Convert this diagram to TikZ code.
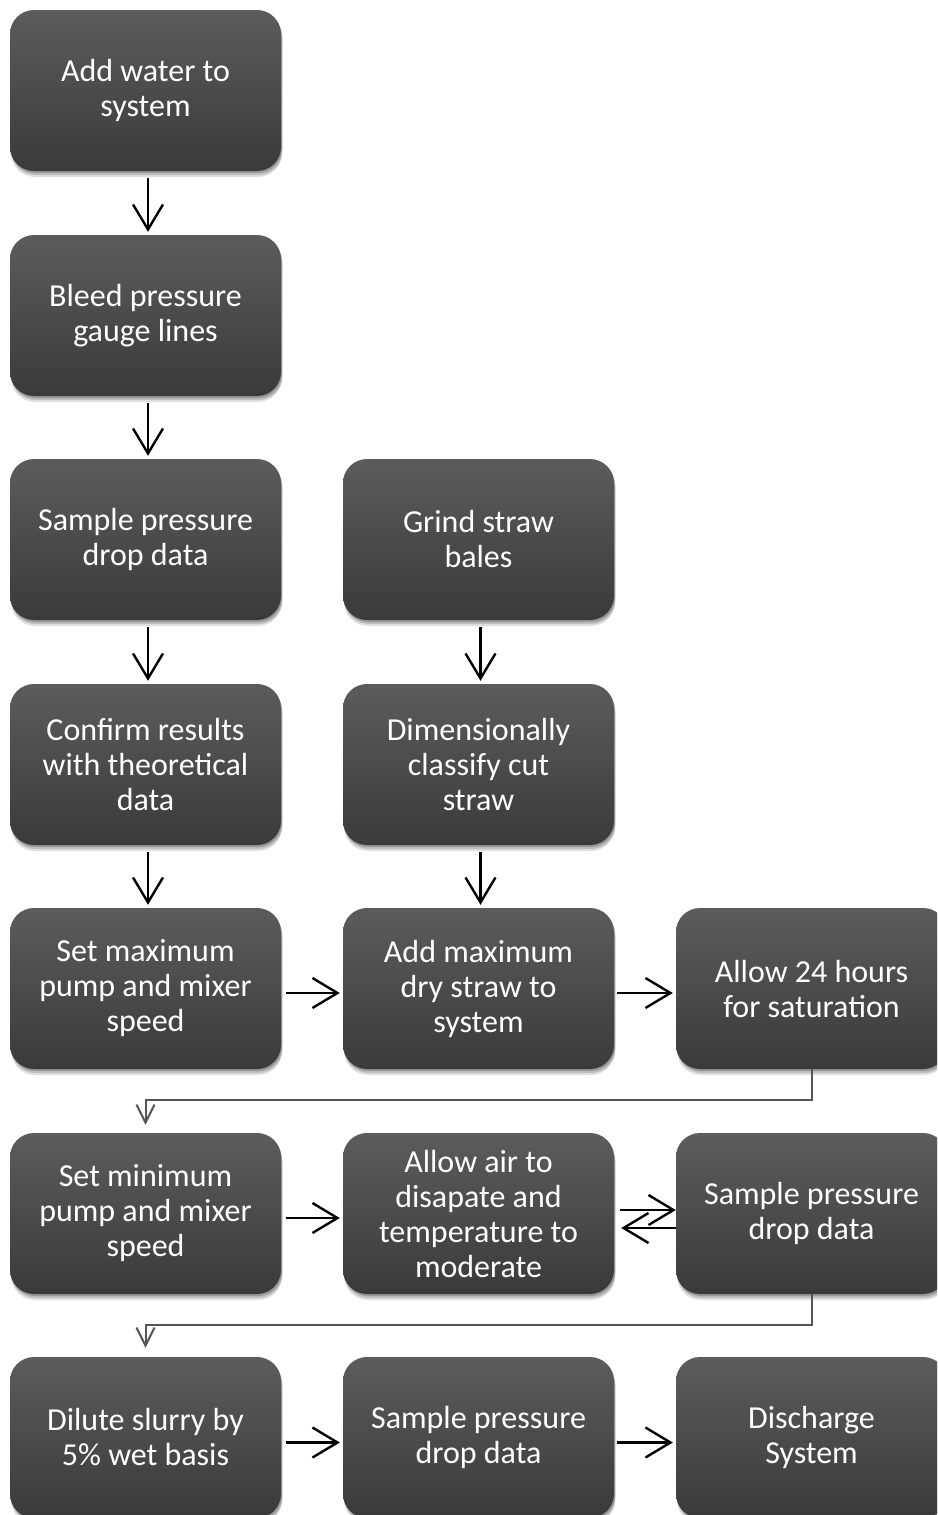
\documentclass[tikz,border=0pt]{standalone}
\usepackage{fontspec}
\setmainfont{Carlito}
\usetikzlibrary{arrows.meta,shadows}
\definecolor{gtop}{HTML}{5C5C5C}
\definecolor{gbot}{HTML}{3A3A3A}
\definecolor{lgrey}{HTML}{555555}
\tikzset{
  box/.style={rectangle, rounded corners=24pt, minimum width=271pt, minimum height=161pt,
    inner sep=0pt, top color=gtop, bottom color=gbot, draw=none, text=white, align=center,
    font=\fontsize{32}{35}\selectfont,
    drop shadow={shadow xshift=1pt, shadow yshift=-6pt, opacity=0.12, fill=black},
    drop shadow={shadow xshift=1.5pt, shadow yshift=-4pt, opacity=0.15, fill=black},
    drop shadow={shadow xshift=1pt, shadow yshift=-2pt, opacity=0.2, fill=black}},
  arr/.style={-{Straight Barb[length=25pt,width=30pt,line width=2.4pt]}, line width=2.4pt, black},
  garr/.style={-{Straight Barb[length=18pt,width=18pt,line width=2pt]}, line width=2pt, lgrey},
}
\begin{document}
\begin{tikzpicture}[x=1pt,y=-1pt]
\useasboundingbox (0,0) rectangle (937,1515);
\clip (0,0) rectangle (937,1515);
\fill[white] (0,0) rectangle (937,1515);
% column 1
\node[box] (a1) at (145.5,90.5)   {Add water to\\system};
\node[box] (a2) at (145.5,315.5)  {Bleed pressure\\gauge lines};
\node[box] (a3) at (145.5,539.5)  {Sample pressure\\drop data};
\node[box] (a4) at (145.5,764.5)  {Confirm results\\with theoretical\\data};
\node[box] (a5) at (145.5,988.5)  {Set maximum\\pump and mixer\\speed};
\node[box] (a6) at (145.5,1213.5) {Set minimum\\pump and mixer\\speed};
\node[box] (a7) at (145.5,1437.5) {Dilute slurry by\\5\% wet basis};
% column 2
\node[box] (b3) at (478.5,539.5)  {Grind straw\\bales};
\node[box] (b4) at (478.5,764.5)  {Dimensionally\\classify cut\\straw};
\node[box] (b5) at (478.5,988.5)  {Add maximum\\dry straw to\\system};
\node[box] (b6) at (478.5,1213.5) {Allow air to\\disapate and\\temperature to\\moderate};
\node[box] (b7) at (478.5,1437.5) {Sample pressure\\drop data};
% column 3
\node[box] (c5) at (811.5,988.5)  {Allow 24 hours\\for saturation};
\node[box] (c6) at (811.5,1213.5) {Sample pressure\\drop data};
\node[box] (c7) at (811.5,1437.5) {Discharge\\System};
% vertical arrows
\draw[arr, shorten <=7pt, shorten >=3pt] ([xshift=2.5pt]a1.south) -- ([xshift=2.5pt]a2.north);
\draw[arr, shorten <=7pt, shorten >=3pt] ([xshift=2.5pt]a2.south) -- ([xshift=2.5pt]a3.north);
\draw[arr, shorten <=7pt, shorten >=3pt] ([xshift=2.5pt]a3.south) -- ([xshift=2.5pt]a4.north);
\draw[arr, shorten <=7pt, shorten >=3pt] ([xshift=2.5pt]a4.south) -- ([xshift=2.5pt]a5.north);
\draw[arr, shorten <=7pt, shorten >=3pt] ([xshift=2pt]b3.south) -- ([xshift=2pt]b4.north);
\draw[arr, shorten <=7pt, shorten >=3pt] ([xshift=2pt]b4.south) -- ([xshift=2pt]b5.north);
% horizontal arrows
\draw[arr, shorten <=5pt, shorten >=3pt] ([yshift=-4.5pt]a5.east) -- ([yshift=-4.5pt]b5.west);
\draw[arr, shorten <=3pt, shorten >=3pt] ([yshift=-4.5pt]b5.east) -- ([yshift=-4.5pt]c5.west);
\draw[arr, shorten <=5pt, shorten >=3pt] ([yshift=-4.5pt]a6.east) -- ([yshift=-4.5pt]b6.west);
\draw[arr, shorten <=6pt] ([yshift=3.5pt]b6.east) -- ([yshift=3.5pt]c6.west);
\draw[arr, shorten >=7pt] ([yshift=-14.5pt]c6.west) -- ([yshift=-14.5pt]b6.east);
\draw[arr, shorten <=5pt, shorten >=3pt] ([yshift=-5pt]a7.east) -- ([yshift=-5pt]b7.west);
\draw[arr, shorten <=3pt, shorten >=3pt] ([yshift=-5pt]b7.east) -- ([yshift=-5pt]c7.west);
% elbow connectors
\draw[garr, shorten >=8pt] (c5.south) -- ++(0,31) -| (a6.north);
\draw[garr, shorten >=9pt] (c6.south) -- ++(0,31) -| (a7.north);
\end{tikzpicture}
\end{document}
